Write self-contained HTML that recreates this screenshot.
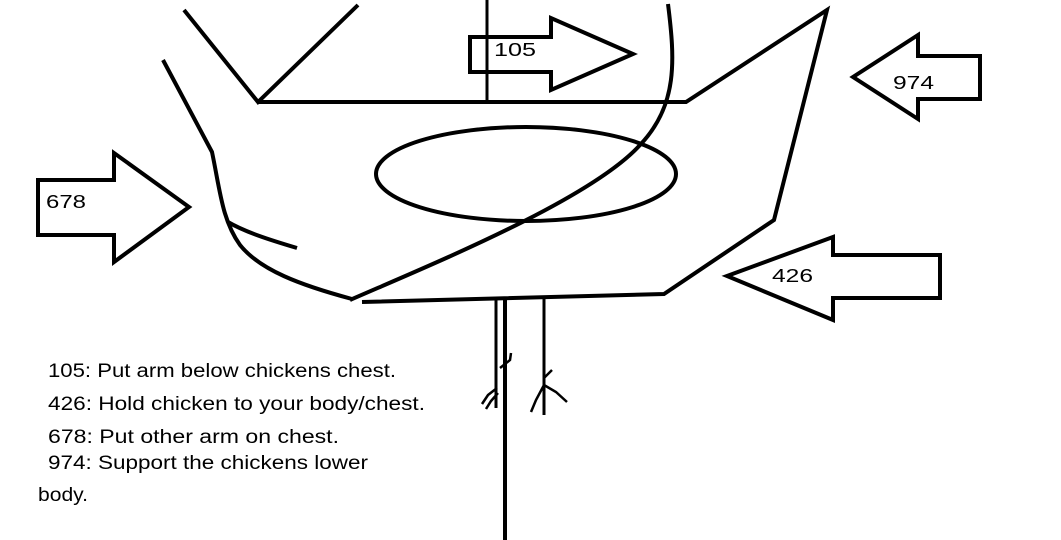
<!DOCTYPE html>
<html><head><meta charset="utf-8"><style>
html,body{margin:0;padding:0;background:#fff;}
svg{display:block;}
text{font-family:"Liberation Sans",sans-serif;fill:#000;}
</style></head><body>
<svg width="1061" height="540" viewBox="0 0 1061 540" xmlns="http://www.w3.org/2000/svg">
<g fill="none" stroke="#000" stroke-width="4" stroke-linejoin="miter" stroke-linecap="butt">
  <polyline points="184,10 258,102 358,5"/>
  <polyline points="258,102 686,102 827,10 774,220 664,294 362,302"/>
  <line x1="487" y1="0" x2="487" y2="102" stroke-width="3"/>
  <path d="M163,60 L212,152 C220,190 222,220 240,245 C260,270 300,285 352,299"/>
  <path d="M228,222 C245,232 270,240 297,248"/>
  <ellipse cx="526" cy="174" rx="150" ry="47"/>
  <path d="M668,4 C675,60 678,105 640,145 C590,200 430,265 350,300"/>
  <line x1="496" y1="298" x2="496" y2="408" stroke-width="3"/>
  <line x1="505" y1="298" x2="505" y2="540" stroke-width="4"/>
  <line x1="544" y1="298" x2="544" y2="415" stroke-width="3"/>
  <g stroke-width="2.5">
    <polyline points="500,368 510,360 511,353"/>
    <polyline points="497,388 488,395 482,404"/>
    <polyline points="498,393 491,401 486,409"/>
    <polyline points="544,378 552,370"/>
    <polyline points="544,385 536,400 531,412"/>
    <polyline points="544,385 556,392 567,402"/>
  </g>
  <polygon points="470,37 551,37 551,18 633,54 551,90 551,72 470,72"/>
  <polygon points="980,56 918,56 918,35 853,77 918,119 918,99 980,99"/>
  <polygon points="38,180 114,180 114,153 189,207 114,262 114,235 38,235"/>
  <polygon points="940,255 833,255 833,237 727,276 833,320 833,298 940,298"/>
</g>
<g font-size="18">
  <text x="494" y="56" textLength="42" lengthAdjust="spacingAndGlyphs">105</text>
  <text x="893" y="89" textLength="41" lengthAdjust="spacingAndGlyphs">974</text>
  <text x="46" y="208" textLength="40" lengthAdjust="spacingAndGlyphs">678</text>
  <text x="772" y="282" textLength="41" lengthAdjust="spacingAndGlyphs">426</text>
</g>
<g font-size="19">
  <text x="48" y="377" textLength="348" lengthAdjust="spacingAndGlyphs">105: Put arm below chickens chest.</text>
  <text x="48" y="410" textLength="377" lengthAdjust="spacingAndGlyphs">426: Hold chicken to your body/chest.</text>
  <text x="48" y="443" textLength="291" lengthAdjust="spacingAndGlyphs">678: Put other arm on chest.</text>
  <text x="48" y="469" textLength="320" lengthAdjust="spacingAndGlyphs">974: Support the chickens lower</text>
  <text x="38" y="501" textLength="50" lengthAdjust="spacingAndGlyphs">body.</text>
</g>
</svg>
</body></html>
